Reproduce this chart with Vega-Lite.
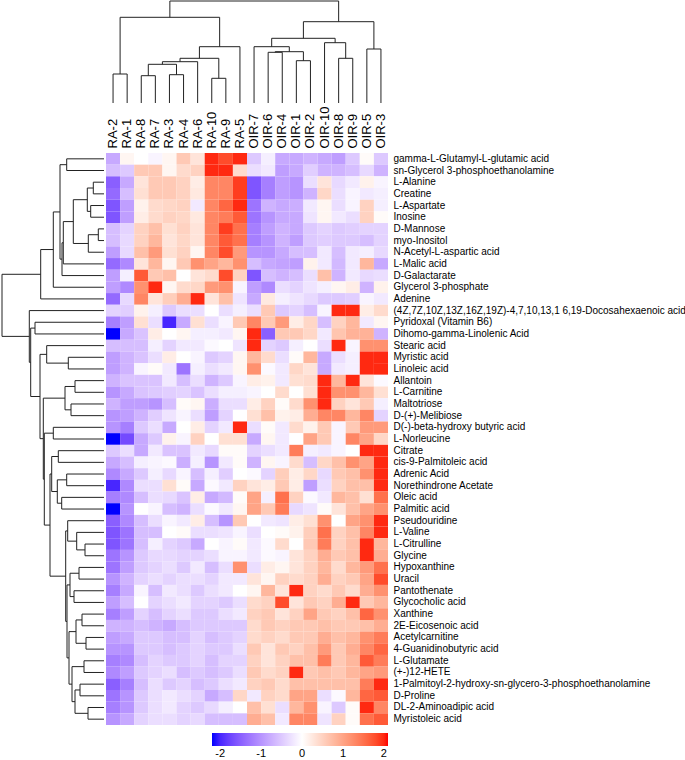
{
"$schema": "https://vega.github.io/schema/vega-lite/v6.json",
"width": 282, "height": 572,
"autosize": "none",
"padding": {"left": 106, "top": 153, "right": 297, "bottom": 35},
"background": "white",
"config": {"view": {"stroke": null}, "font": "Liberation Sans", "axis": {"labelColor": "black"}},
"resolve": {"scale": {"x": "independent", "y": "independent"}},
"datasets": {
"heat": [
{"m":"gamma-L-Glutamyl-L-glutamic acid","RA-2":-0.8,"RA-1":0.1,"RA-8":0,"RA-7":-0.1,"RA-3":0.1,"RA-4":0.6,"RA-6":0.3,"RA-10":2,"RA-9":1.8,"RA-5":2,"OIR-7":-0.5,"OIR-6":-0.15,"OIR-4":-0.8,"OIR-1":-0.8,"OIR-2":-0.7,"OIR-10":-0.8,"OIR-8":-0.9,"OIR-9":-0.5,"OIR-5":0.05,"OIR-3":-0.5},
{"m":"sn-Glycerol 3-phosphoethanolamine","RA-2":-0.6,"RA-1":-0.5,"RA-8":0.6,"RA-7":0.6,"RA-3":0.1,"RA-4":0.4,"RA-6":0.5,"RA-10":2,"RA-9":2,"RA-5":0.4,"OIR-7":-0.3,"OIR-6":-0.2,"OIR-4":-0.9,"OIR-1":-0.8,"OIR-2":-0.45,"OIR-10":-0.7,"OIR-8":-0.7,"OIR-9":-0.6,"OIR-5":-0.35,"OIR-3":-0.7},
{"m":"L-Alanine","RA-2":-1.5,"RA-1":-0.8,"RA-8":0.3,"RA-7":0.6,"RA-3":0.6,"RA-4":0.5,"RA-6":0.2,"RA-10":1.3,"RA-9":1.3,"RA-5":1.9,"OIR-7":-1.6,"OIR-6":-1.2,"OIR-4":-0.9,"OIR-1":-1.0,"OIR-2":-0.3,"OIR-10":0.3,"OIR-8":-0.35,"OIR-9":-0.2,"OIR-5":0.15,"OIR-3":-0.1},
{"m":"Creatine","RA-2":-1.4,"RA-1":-0.6,"RA-8":0.35,"RA-7":0.6,"RA-3":0.6,"RA-4":0.5,"RA-6":0.25,"RA-10":1.3,"RA-9":1.3,"RA-5":1.9,"OIR-7":-1.6,"OIR-6":-1.2,"OIR-4":-0.9,"OIR-1":-1.0,"OIR-2":-0.7,"OIR-10":0.45,"OIR-8":-0.3,"OIR-9":-0.1,"OIR-5":-0.2,"OIR-3":-0.15},
{"m":"L-Aspartate","RA-2":-1.6,"RA-1":-0.9,"RA-8":0.15,"RA-7":0.4,"RA-3":0.45,"RA-4":0.5,"RA-6":-0.2,"RA-10":1.3,"RA-9":1.6,"RA-5":2,"OIR-7":-1.3,"OIR-6":-0.7,"OIR-4":-0.8,"OIR-1":-0.75,"OIR-2":-0.2,"OIR-10":0.1,"OIR-8":-0.3,"OIR-9":-0.1,"OIR-5":0.5,"OIR-3":-0.15},
{"m":"Inosine","RA-2":-1.6,"RA-1":-0.9,"RA-8":0.2,"RA-7":0.4,"RA-3":0.5,"RA-4":0.45,"RA-6":0.25,"RA-10":1.3,"RA-9":1.4,"RA-5":1.7,"OIR-7":-1.3,"OIR-6":-1.0,"OIR-4":-0.8,"OIR-1":-0.8,"OIR-2":-0.25,"OIR-10":0.1,"OIR-8":-0.2,"OIR-9":-0.3,"OIR-5":0.5,"OIR-3":0.05},
{"m":"D-Mannose","RA-2":-0.6,"RA-1":-0.4,"RA-8":0.5,"RA-7":0.7,"RA-3":0.35,"RA-4":0.5,"RA-6":0.3,"RA-10":1.3,"RA-9":1.9,"RA-5":1.5,"OIR-7":-1.2,"OIR-6":-0.9,"OIR-4":-0.7,"OIR-1":-0.8,"OIR-2":-0.5,"OIR-10":-0.4,"OIR-8":-0.5,"OIR-9":-0.45,"OIR-5":-0.4,"OIR-3":-0.4},
{"m":"myo-Inositol","RA-2":-0.6,"RA-1":-0.35,"RA-8":0.5,"RA-7":0.8,"RA-3":0.3,"RA-4":0.45,"RA-6":0.3,"RA-10":1.3,"RA-9":1.7,"RA-5":1.5,"OIR-7":-1.2,"OIR-6":-1.0,"OIR-4":-0.7,"OIR-1":-0.9,"OIR-2":-0.5,"OIR-10":-0.45,"OIR-8":-0.5,"OIR-9":-0.5,"OIR-5":-0.6,"OIR-3":-0.4},
{"m":"N-Acetyl-L-aspartic acid","RA-2":-0.9,"RA-1":-0.35,"RA-8":0.7,"RA-7":1.1,"RA-3":0.35,"RA-4":0.5,"RA-6":0.1,"RA-10":1.3,"RA-9":1.8,"RA-5":1.1,"OIR-7":-1.0,"OIR-6":-1.0,"OIR-4":-0.8,"OIR-1":-0.6,"OIR-2":-0.6,"OIR-10":-0.2,"OIR-8":-0.6,"OIR-9":-0.2,"OIR-5":-0.15,"OIR-3":-0.35},
{"m":"L-Malic acid","RA-2":-1.4,"RA-1":-1.1,"RA-8":0.3,"RA-7":0.8,"RA-3":0.1,"RA-4":0.6,"RA-6":1.2,"RA-10":1.0,"RA-9":0.8,"RA-5":1.2,"OIR-7":-0.6,"OIR-6":-0.8,"OIR-4":-0.85,"OIR-1":-0.9,"OIR-2":0.15,"OIR-10":-0.2,"OIR-8":-0.65,"OIR-9":-0.2,"OIR-5":0.8,"OIR-3":-0.8},
{"m":"D-Galactarate","RA-2":-0.9,"RA-1":-0.15,"RA-8":1.7,"RA-7":0.6,"RA-3":0.7,"RA-4":0,"RA-6":0.3,"RA-10":0.4,"RA-9":1.8,"RA-5":0.5,"OIR-7":-1.6,"OIR-6":-0.6,"OIR-4":-0.7,"OIR-1":-0.6,"OIR-2":-0.3,"OIR-10":0.7,"OIR-8":-0.7,"OIR-9":-0.2,"OIR-5":-0.35,"OIR-3":-0.3},
{"m":"Glycerol 3-phosphate","RA-2":-0.9,"RA-1":-1.1,"RA-8":1.2,"RA-7":2,"RA-3":0.1,"RA-4":0.4,"RA-6":0.45,"RA-10":1.1,"RA-9":1.2,"RA-5":-0.1,"OIR-7":-0.9,"OIR-6":-1.1,"OIR-4":-0.3,"OIR-1":-0.4,"OIR-2":-0.25,"OIR-10":-0.15,"OIR-8":0.1,"OIR-9":0.2,"OIR-5":-0.7,"OIR-3":0.15},
{"m":"Adenine","RA-2":-1.4,"RA-1":-0.35,"RA-8":1.3,"RA-7":0.3,"RA-3":0.55,"RA-4":0.9,"RA-6":2,"RA-10":0.3,"RA-9":0.7,"RA-5":-0.25,"OIR-7":-0.8,"OIR-6":0.25,"OIR-4":-0.15,"OIR-1":-0.25,"OIR-2":-0.35,"OIR-10":-0.5,"OIR-8":-0.5,"OIR-9":-0.45,"OIR-5":-0.1,"OIR-3":-0.2},
{"m":"(4Z,7Z,10Z,13Z,16Z,19Z)-4,7,10,13,1 6,19-Docosahexaenoic acid","RA-2":-0.4,"RA-1":-0.45,"RA-8":0.15,"RA-7":-0.15,"RA-3":-0.5,"RA-4":-0.3,"RA-6":-0.3,"RA-10":0,"RA-9":-0.3,"RA-5":-0.15,"OIR-7":-0.3,"OIR-6":0.6,"OIR-4":-0.5,"OIR-1":-0.4,"OIR-2":-0.6,"OIR-10":-0.1,"OIR-8":2,"OIR-9":2,"OIR-5":0.2,"OIR-3":0.4},
{"m":"Pyridoxal (Vitamin B6)","RA-2":-1.2,"RA-1":-0.9,"RA-8":0.35,"RA-7":-0.3,"RA-3":-2,"RA-4":-0.8,"RA-6":0.35,"RA-10":-0.3,"RA-9":-0.1,"RA-5":0.6,"OIR-7":1.3,"OIR-6":0.6,"OIR-4":1.1,"OIR-1":0.2,"OIR-2":0.45,"OIR-10":-0.6,"OIR-8":0.5,"OIR-9":0.8,"OIR-5":-0.2,"OIR-3":0.1},
{"m":"Dihomo-gamma-Linolenic Acid","RA-2":-2.3,"RA-1":-0.8,"RA-8":-0.55,"RA-7":0.2,"RA-3":0,"RA-4":0.1,"RA-6":-0.15,"RA-10":-0.15,"RA-9":-0.2,"RA-5":0.1,"OIR-7":2,"OIR-6":-1.5,"OIR-4":0.6,"OIR-1":0.6,"OIR-2":0.45,"OIR-10":-0.2,"OIR-8":0.65,"OIR-9":0.85,"OIR-5":0.85,"OIR-3":-0.7},
{"m":"Stearic acid","RA-2":-0.6,"RA-1":-0.6,"RA-8":-0.6,"RA-7":-0.15,"RA-3":-0.4,"RA-4":-0.2,"RA-6":-0.2,"RA-10":-0.05,"RA-9":0,"RA-5":-0.25,"OIR-7":2,"OIR-6":-0.4,"OIR-4":-0.5,"OIR-1":-0.15,"OIR-2":0,"OIR-10":-0.3,"OIR-8":2,"OIR-9":-0.1,"OIR-5":1.2,"OIR-3":1.2},
{"m":"Myristic acid","RA-2":-0.9,"RA-1":-0.7,"RA-8":-0.55,"RA-7":-0.3,"RA-3":0.2,"RA-4":0,"RA-6":-0.1,"RA-10":-0.5,"RA-9":-0.4,"RA-5":0.1,"OIR-7":0.8,"OIR-6":0.4,"OIR-4":-0.3,"OIR-1":0.05,"OIR-2":0.8,"OIR-10":-0.8,"OIR-8":-0.3,"OIR-9":-0.15,"OIR-5":2,"OIR-3":2},
{"m":"Linoleic acid","RA-2":-0.9,"RA-1":-0.7,"RA-8":-0.1,"RA-7":0.05,"RA-3":-0.2,"RA-4":-1.3,"RA-6":-0.15,"RA-10":-0.3,"RA-9":-0.2,"RA-5":0.1,"OIR-7":1.2,"OIR-6":-0.05,"OIR-4":-0.2,"OIR-1":0.45,"OIR-2":0.3,"OIR-10":-0.8,"OIR-8":-0.2,"OIR-9":-0.15,"OIR-5":2,"OIR-3":2},
{"m":"Allantoin","RA-2":-0.7,"RA-1":-0.55,"RA-8":-0.55,"RA-7":-0.55,"RA-3":-0.2,"RA-4":-0.6,"RA-6":-0.3,"RA-10":-0.7,"RA-9":-0.5,"RA-5":-0.1,"OIR-7":0.2,"OIR-6":0.15,"OIR-4":-0.2,"OIR-1":0.35,"OIR-2":0.4,"OIR-10":2,"OIR-8":0.8,"OIR-9":2,"OIR-5":0.3,"OIR-3":-0.05},
{"m":"L-Carnitine","RA-2":-1.0,"RA-1":-0.8,"RA-8":-0.55,"RA-7":-0.5,"RA-3":-0.45,"RA-4":-0.4,"RA-6":-0.55,"RA-10":-0.3,"RA-9":-0.15,"RA-5":-0.15,"OIR-7":-0.1,"OIR-6":0,"OIR-4":0.4,"OIR-1":0,"OIR-2":0.35,"OIR-10":2,"OIR-8":1.2,"OIR-9":1.2,"OIR-5":0.8,"OIR-3":0.35},
{"m":"Maltotriose","RA-2":-0.7,"RA-1":-0.9,"RA-8":-0.9,"RA-7":-1.0,"RA-3":-0.6,"RA-4":0.05,"RA-6":0.1,"RA-10":-0.75,"RA-9":-0.3,"RA-5":-0.3,"OIR-7":0.2,"OIR-6":0.5,"OIR-4":0.05,"OIR-1":0.4,"OIR-2":1.2,"OIR-10":2,"OIR-8":0.5,"OIR-9":0.3,"OIR-5":0.6,"OIR-3":-0.15},
{"m":"D-(+)-Melibiose","RA-2":-1.0,"RA-1":-0.9,"RA-8":-0.7,"RA-7":-0.45,"RA-3":-0.25,"RA-4":-0.1,"RA-6":-0.3,"RA-10":-0.9,"RA-9":-0.4,"RA-5":0,"OIR-7":0.35,"OIR-6":0.7,"OIR-4":0.15,"OIR-1":0.2,"OIR-2":0.9,"OIR-10":1.3,"OIR-8":1.3,"OIR-9":0.8,"OIR-5":1.3,"OIR-3":-0.4},
{"m":"D(-)-beta-hydroxy butyric acid","RA-2":-1.0,"RA-1":-1.2,"RA-8":-0.5,"RA-7":-0.3,"RA-3":-0.8,"RA-4":0,"RA-6":0.2,"RA-10":-0.4,"RA-9":-0.2,"RA-5":2,"OIR-7":-0.3,"OIR-6":0.05,"OIR-4":-0.2,"OIR-1":0.4,"OIR-2":0.15,"OIR-10":0.6,"OIR-8":-0.1,"OIR-9":0.6,"OIR-5":1.1,"OIR-3":1.1},
{"m":"L-Norleucine","RA-2":-2.2,"RA-1":-1.7,"RA-8":-0.8,"RA-7":-0.5,"RA-3":0.15,"RA-4":-0.1,"RA-6":0.5,"RA-10":0,"RA-9":0.35,"RA-5":0.35,"OIR-7":-0.8,"OIR-6":0.1,"OIR-4":-0.2,"OIR-1":0,"OIR-2":1.0,"OIR-10":0.6,"OIR-8":-0.1,"OIR-9":1.3,"OIR-5":1.0,"OIR-3":0.45},
{"m":"Citrate","RA-2":-0.5,"RA-1":-0.3,"RA-8":-0.8,"RA-7":-0.2,"RA-3":-0.55,"RA-4":-0.55,"RA-6":-0.2,"RA-10":-0.35,"RA-9":0.05,"RA-5":0.05,"OIR-7":-0.4,"OIR-6":-0.3,"OIR-4":-0.2,"OIR-1":1.4,"OIR-2":-0.15,"OIR-10":-0.2,"OIR-8":-0.1,"OIR-9":0,"OIR-5":2,"OIR-3":2},
{"m":"cis-9-Palmitoleic acid","RA-2":-0.8,"RA-1":-0.6,"RA-8":-0.15,"RA-7":-0.1,"RA-3":-0.05,"RA-4":-0.75,"RA-6":-0.15,"RA-10":-1.0,"RA-9":-0.2,"RA-5":0.05,"OIR-7":-0.7,"OIR-6":0.1,"OIR-4":-0.1,"OIR-1":0.4,"OIR-2":-0.6,"OIR-10":0.45,"OIR-8":0.7,"OIR-9":1.2,"OIR-5":1.0,"OIR-3":2},
{"m":"Adrenic Acid","RA-2":-1.1,"RA-1":-0.8,"RA-8":-0.5,"RA-7":-0.15,"RA-3":-0.35,"RA-4":-0.1,"RA-6":-0.6,"RA-10":-0.15,"RA-9":-0.45,"RA-5":0,"OIR-7":-0.05,"OIR-6":-0.4,"OIR-4":0.55,"OIR-1":0.2,"OIR-2":0.45,"OIR-10":-0.35,"OIR-8":0.6,"OIR-9":0.7,"OIR-5":1.2,"OIR-3":2},
{"m":"Norethindrone Acetate","RA-2":-2.0,"RA-1":-1.1,"RA-8":-0.3,"RA-7":-0.3,"RA-3":0.35,"RA-4":0.05,"RA-6":-0.8,"RA-10":-0.05,"RA-9":-0.2,"RA-5":0.5,"OIR-7":0.3,"OIR-6":0.2,"OIR-4":0.6,"OIR-1":0.2,"OIR-2":-0.9,"OIR-10":-0.3,"OIR-8":0.5,"OIR-9":0.7,"OIR-5":0.7,"OIR-3":2},
{"m":"Oleic acid","RA-2":-1.2,"RA-1":-1.1,"RA-8":-0.6,"RA-7":-0.3,"RA-3":-0.35,"RA-4":-0.55,"RA-6":0.2,"RA-10":-0.8,"RA-9":-0.65,"RA-5":0.05,"OIR-7":1.0,"OIR-6":-0.15,"OIR-4":1.5,"OIR-1":0.5,"OIR-2":-0.05,"OIR-10":-0.2,"OIR-8":0.8,"OIR-9":0.7,"OIR-5":0.35,"OIR-3":1.5},
{"m":"Palmitic acid","RA-2":-2.2,"RA-1":-1.0,"RA-8":0,"RA-7":-0.1,"RA-3":-0.6,"RA-4":-0.7,"RA-6":-0.3,"RA-10":-0.05,"RA-9":-0.2,"RA-5":0.1,"OIR-7":1.0,"OIR-6":0.6,"OIR-4":1.4,"OIR-1":-0.35,"OIR-2":-0.25,"OIR-10":0.05,"OIR-8":0.3,"OIR-9":0.7,"OIR-5":1.0,"OIR-3":1.2},
{"m":"Pseudouridine","RA-2":-1.5,"RA-1":-1.1,"RA-8":-0.6,"RA-7":-0.3,"RA-3":-0.1,"RA-4":-0.2,"RA-6":0.2,"RA-10":-0.6,"RA-9":-1.0,"RA-5":0.6,"OIR-7":0,"OIR-6":-0.2,"OIR-4":-0.25,"OIR-1":0.2,"OIR-2":0.35,"OIR-10":1.2,"OIR-8":0,"OIR-9":1.0,"OIR-5":1.2,"OIR-3":2},
{"m":"L-Valine","RA-2":-1.6,"RA-1":-1.3,"RA-8":-0.6,"RA-7":-0.6,"RA-3":0,"RA-4":0.05,"RA-6":-0.3,"RA-10":-0.3,"RA-9":-0.25,"RA-5":-0.1,"OIR-7":-0.3,"OIR-6":0,"OIR-4":0.05,"OIR-1":0.15,"OIR-2":0.55,"OIR-10":1.5,"OIR-8":0.5,"OIR-9":0.7,"OIR-5":1.3,"OIR-3":2},
{"m":"L-Citrulline","RA-2":-1.6,"RA-1":-1.3,"RA-8":-0.6,"RA-7":-0.15,"RA-3":-0.4,"RA-4":-0.5,"RA-6":-0.8,"RA-10":0,"RA-9":-0.1,"RA-5":0.05,"OIR-7":-0.2,"OIR-6":-0.05,"OIR-4":0.4,"OIR-1":0,"OIR-2":0.6,"OIR-10":1.4,"OIR-8":0.5,"OIR-9":0.7,"OIR-5":2,"OIR-3":0.8},
{"m":"Glycine","RA-2":-1.3,"RA-1":-1.0,"RA-8":-0.5,"RA-7":-0.35,"RA-3":-0.35,"RA-4":-0.4,"RA-6":-0.4,"RA-10":-0.3,"RA-9":-0.1,"RA-5":-0.1,"OIR-7":-0.2,"OIR-6":-0.05,"OIR-4":-0.1,"OIR-1":0.3,"OIR-2":0.5,"OIR-10":0.9,"OIR-8":0.6,"OIR-9":0.7,"OIR-5":2,"OIR-3":0.9},
{"m":"Hypoxanthine","RA-2":-1.3,"RA-1":-0.9,"RA-8":-0.5,"RA-7":-0.4,"RA-3":-0.3,"RA-4":-0.5,"RA-6":-0.2,"RA-10":-0.6,"RA-9":-0.3,"RA-5":1.2,"OIR-7":-0.3,"OIR-6":0.2,"OIR-4":0.1,"OIR-1":0.3,"OIR-2":0.5,"OIR-10":0.8,"OIR-8":0.4,"OIR-9":0.8,"OIR-5":1.1,"OIR-3":1.5},
{"m":"Uracil","RA-2":-1.0,"RA-1":-0.7,"RA-8":-0.4,"RA-7":-0.3,"RA-3":-0.4,"RA-4":-0.3,"RA-6":-0.3,"RA-10":-0.4,"RA-9":-0.2,"RA-5":-0.2,"OIR-7":0.3,"OIR-6":0.1,"OIR-4":0.5,"OIR-1":0.4,"OIR-2":0.5,"OIR-10":0.9,"OIR-8":0.5,"OIR-9":0.6,"OIR-5":1.0,"OIR-3":1.8},
{"m":"Pantothenate","RA-2":-1.2,"RA-1":-0.8,"RA-8":-0.1,"RA-7":-0.6,"RA-3":-0.2,"RA-4":-0.3,"RA-6":-0.5,"RA-10":-0.3,"RA-9":-0.2,"RA-5":0,"OIR-7":0.1,"OIR-6":0.8,"OIR-4":0.3,"OIR-1":2,"OIR-2":0.5,"OIR-10":0.4,"OIR-8":0.6,"OIR-9":0.4,"OIR-5":0.9,"OIR-3":1.2},
{"m":"Glycocholic acid","RA-2":-0.9,"RA-1":-0.6,"RA-8":0,"RA-7":-0.4,"RA-3":-0.3,"RA-4":-0.2,"RA-6":-0.4,"RA-10":-0.4,"RA-9":-0.5,"RA-5":-0.3,"OIR-7":0.4,"OIR-6":0.5,"OIR-4":1.8,"OIR-1":0.3,"OIR-2":0.6,"OIR-10":0.5,"OIR-8":0.9,"OIR-9":2,"OIR-5":0.6,"OIR-3":0.8},
{"m":"Xanthine","RA-2":-1.2,"RA-1":-0.9,"RA-8":-0.4,"RA-7":-0.6,"RA-3":-0.4,"RA-4":-0.3,"RA-6":-0.5,"RA-10":-0.5,"RA-9":-0.3,"RA-5":-0.2,"OIR-7":0.5,"OIR-6":0.6,"OIR-4":0.3,"OIR-1":0.5,"OIR-2":1.0,"OIR-10":0.6,"OIR-8":0.5,"OIR-9":0.7,"OIR-5":1.6,"OIR-3":1.2},
{"m":"2E-Eicosenoic acid","RA-2":-0.7,"RA-1":-0.7,"RA-8":-0.6,"RA-7":-0.7,"RA-3":-0.8,"RA-4":-0.6,"RA-6":-0.5,"RA-10":-0.5,"RA-9":-0.5,"RA-5":-0.5,"OIR-7":0.4,"OIR-6":0.6,"OIR-4":0.5,"OIR-1":0.6,"OIR-2":0.6,"OIR-10":0.7,"OIR-8":0.6,"OIR-9":0.6,"OIR-5":0.7,"OIR-3":0.9},
{"m":"Acetylcarnitine","RA-2":-0.9,"RA-1":-0.8,"RA-8":-0.5,"RA-7":-0.5,"RA-3":-0.6,"RA-4":-0.6,"RA-6":-0.4,"RA-10":-0.6,"RA-9":-0.5,"RA-5":-0.4,"OIR-7":0.4,"OIR-6":0.5,"OIR-4":0.4,"OIR-1":0.6,"OIR-2":0.6,"OIR-10":0.9,"OIR-8":0.7,"OIR-9":0.8,"OIR-5":1.2,"OIR-3":1.4},
{"m":"4-Guanidinobutyric acid","RA-2":-1.0,"RA-1":-1.0,"RA-8":-0.5,"RA-7":-0.5,"RA-3":-0.6,"RA-4":-0.5,"RA-6":-0.4,"RA-10":-0.5,"RA-9":-0.5,"RA-5":-0.3,"OIR-7":0.6,"OIR-6":0.3,"OIR-4":0.6,"OIR-1":0.5,"OIR-2":0.7,"OIR-10":1.1,"OIR-8":0.6,"OIR-9":0.9,"OIR-5":1.3,"OIR-3":1.6},
{"m":"L-Glutamate","RA-2":-1.2,"RA-1":-1.1,"RA-8":-0.6,"RA-7":-0.4,"RA-3":-0.5,"RA-4":-0.5,"RA-6":-0.4,"RA-10":-0.6,"RA-9":-0.4,"RA-5":-0.4,"OIR-7":0.5,"OIR-6":0.3,"OIR-4":0.5,"OIR-1":0.7,"OIR-2":0.7,"OIR-10":1.4,"OIR-8":0.6,"OIR-9":0.8,"OIR-5":1.7,"OIR-3":1.4},
{"m":"(+-)12-HETE","RA-2":-1.1,"RA-1":-0.9,"RA-8":-0.5,"RA-7":-0.4,"RA-3":-0.3,"RA-4":-0.6,"RA-6":-0.5,"RA-10":-0.6,"RA-9":-0.5,"RA-5":-0.3,"OIR-7":0.6,"OIR-6":0.4,"OIR-4":0.5,"OIR-1":2,"OIR-2":0.6,"OIR-10":0.7,"OIR-8":0.6,"OIR-9":0.8,"OIR-5":1.0,"OIR-3":1.1},
{"m":"1-Palmitoyl-2-hydroxy-sn-glycero-3-phosphoethanolamine","RA-2":-1.5,"RA-1":-1.2,"RA-8":-0.6,"RA-7":-0.3,"RA-3":-0.5,"RA-4":-0.4,"RA-6":-0.6,"RA-10":-0.5,"RA-9":-0.3,"RA-5":-0.2,"OIR-7":0.5,"OIR-6":0.6,"OIR-4":0.4,"OIR-1":0.7,"OIR-2":0.7,"OIR-10":0.7,"OIR-8":0.7,"OIR-9":0.7,"OIR-5":1.4,"OIR-3":2},
{"m":"D-Proline","RA-2":-1.3,"RA-1":-1.0,"RA-8":-0.5,"RA-7":-0.3,"RA-3":-0.2,"RA-4":-0.3,"RA-6":-0.4,"RA-10":-0.8,"RA-9":-0.6,"RA-5":0.45,"OIR-7":-0.2,"OIR-6":0.5,"OIR-4":0.4,"OIR-1":1.0,"OIR-2":1.0,"OIR-10":-0.3,"OIR-8":-0.05,"OIR-9":0.8,"OIR-5":1.6,"OIR-3":1.7},
{"m":"DL-2-Aminoadipic acid","RA-2":-1.2,"RA-1":-1.0,"RA-8":-0.5,"RA-7":-0.3,"RA-3":-0.2,"RA-4":-0.4,"RA-6":-0.5,"RA-10":-0.35,"RA-9":-0.15,"RA-5":0,"OIR-7":0.7,"OIR-6":0.35,"OIR-4":-0.3,"OIR-1":0.8,"OIR-2":1.2,"OIR-10":-0.1,"OIR-8":-0.5,"OIR-9":0.05,"OIR-5":2,"OIR-3":1.3},
{"m":"Myristoleic acid","RA-2":-1.0,"RA-1":-0.8,"RA-8":-0.4,"RA-7":-0.3,"RA-3":-0.3,"RA-4":-0.4,"RA-6":-0.35,"RA-10":-0.6,"RA-9":-0.6,"RA-5":-0.6,"OIR-7":0.9,"OIR-6":0.7,"OIR-4":-0.2,"OIR-1":1.3,"OIR-2":1.3,"OIR-10":-0.25,"OIR-8":0.5,"OIR-9":0.05,"OIR-5":1.5,"OIR-3":1.7}
],
"coltree": [
{"a":0.5,"ha":0,"b":1.5,"hb":0,"h":29},
{"a":2.5,"ha":0,"b":3.5,"hb":0,"h":27.3},
{"a":4.5,"ha":0,"b":5.5,"hb":0,"h":28.3},
{"a":3,"ha":27.3,"b":5,"hb":28.3,"h":38.7},
{"a":4,"ha":38.7,"b":6.5,"hb":0,"h":41.3},
{"a":7.5,"ha":0,"b":8.5,"hb":0,"h":24.7},
{"a":5.25,"ha":41.3,"b":8,"hb":24.7,"h":44.7},
{"a":6.625,"ha":44.7,"b":9.5,"hb":0,"h":56.3},
{"a":1,"ha":29,"b":8.06,"hb":56.3,"h":85.7},
{"a":13.5,"ha":0,"b":14.5,"hb":0,"h":42.3},
{"a":11.5,"ha":0,"b":12.5,"hb":0,"h":50.7},
{"a":12,"ha":50.7,"b":14,"hb":42.3,"h":51.3},
{"a":10.5,"ha":0,"b":13,"hb":51.3,"h":56.3},
{"a":16.5,"ha":0,"b":17.5,"hb":0,"h":44.7},
{"a":15.5,"ha":0,"b":17,"hb":44.7,"h":60.3},
{"a":11.75,"ha":56.3,"b":16.25,"hb":60.3,"h":64.7},
{"a":18.5,"ha":0,"b":19.5,"hb":0,"h":54},
{"a":14,"ha":64.7,"b":19,"hb":54,"h":81.3},
{"a":4.53,"ha":85.7,"b":16.5,"hb":81.3,"h":102}
],
"rowtree": [
{"a":0.5,"ha":0,"b":1.5,"hb":0,"h":37.3},
{"a":2.5,"ha":0,"b":3.5,"hb":0,"h":10.7},
{"a":4.5,"ha":0,"b":5.5,"hb":0,"h":13.3},
{"a":3.0,"ha":10.7,"b":5.0,"hb":13.3,"h":16.7},
{"a":6.5,"ha":0,"b":7.5,"hb":0,"h":5.7},
{"a":7.0,"ha":5.7,"b":8.5,"hb":0,"h":15.7},
{"a":4.0,"ha":16.7,"b":7.75,"hb":15.7,"h":30.7},
{"a":5.875,"ha":30.7,"b":9.5,"hb":0,"h":40.7},
{"a":7.69,"ha":40.7,"b":10.5,"hb":0,"h":42},
{"a":1.0,"ha":37.3,"b":9.09,"hb":42,"h":44},
{"a":5.05,"ha":44,"b":11.5,"hb":0,"h":50.7},
{"a":8.27,"ha":50.7,"b":12.5,"hb":0,"h":63.3},
{"a":14.5,"ha":0,"b":15.5,"hb":0,"h":69},
{"a":17.5,"ha":0,"b":18.5,"hb":0,"h":35.7},
{"a":16.5,"ha":0,"b":18.0,"hb":35.7,"h":57.3},
{"a":19.5,"ha":0,"b":20.5,"hb":0,"h":29},
{"a":21.5,"ha":0,"b":22.5,"hb":0,"h":33},
{"a":20.0,"ha":29,"b":22.0,"hb":33,"h":39},
{"a":23.5,"ha":0,"b":24.5,"hb":0,"h":50.7},
{"a":25.5,"ha":0,"b":26.5,"hb":0,"h":45.7},
{"a":27.5,"ha":0,"b":28.5,"hb":0,"h":37.3},
{"a":29.5,"ha":0,"b":30.5,"hb":0,"h":42.3},
{"a":28.0,"ha":37.3,"b":30.0,"hb":42.3,"h":46.7},
{"a":26.0,"ha":45.7,"b":29.0,"hb":46.7,"h":52.3},
{"a":33.5,"ha":0,"b":34.5,"hb":0,"h":19},
{"a":32.5,"ha":0,"b":34.0,"hb":19,"h":27.3},
{"a":31.5,"ha":0,"b":33.25,"hb":27.3,"h":36.3},
{"a":35.5,"ha":0,"b":36.5,"hb":0,"h":25},
{"a":37.5,"ha":0,"b":38.5,"hb":0,"h":30},
{"a":36.0,"ha":25,"b":38.0,"hb":30,"h":34},
{"a":39.5,"ha":0,"b":40.5,"hb":0,"h":22},
{"a":41.5,"ha":0,"b":42.5,"hb":0,"h":18},
{"a":40.0,"ha":22,"b":42.0,"hb":18,"h":28},
{"a":43.5,"ha":0,"b":44.5,"hb":0,"h":20},
{"a":45.5,"ha":0,"b":46.5,"hb":0,"h":24},
{"a":47.5,"ha":0,"b":48.5,"hb":0,"h":16},
{"a":46.0,"ha":24,"b":48.0,"hb":16,"h":29},
{"a":44.0,"ha":20,"b":47.0,"hb":29,"h":32},
{"a":41.0,"ha":28,"b":45.5,"hb":32,"h":35},
{"a":37.0,"ha":34,"b":43.25,"hb":35,"h":37},
{"a":32.375,"ha":36.3,"b":40.125,"hb":37,"h":38.3},
{"a":27.5,"ha":52.3,"b":36.25,"hb":38.3,"h":54},
{"a":24.0,"ha":50.7,"b":31.875,"hb":54,"h":59.7},
{"a":21.0,"ha":39,"b":27.94,"hb":59.7,"h":60.7},
{"a":17.25,"ha":57.3,"b":24.47,"hb":60.7,"h":64},
{"a":15.0,"ha":69,"b":20.86,"hb":64,"h":73.3},
{"a":13.5,"ha":0,"b":17.93,"hb":73.3,"h":74.7},
{"a":10.39,"ha":63.3,"b":15.71,"hb":74.7,"h":102}
]
},
"layer": [
{
"data": {"name": "heat"},
"transform": [{"fold": ["RA-2","RA-1","RA-8","RA-7","RA-3","RA-4","RA-6","RA-10","RA-9","RA-5","OIR-7","OIR-6","OIR-4","OIR-1","OIR-2","OIR-10","OIR-8","OIR-9","OIR-5","OIR-3"], "as": ["s","z"]}],
"mark": {"type": "rect"},
"encoding": {
"x": {"field": "s", "type": "nominal", "sort": ["RA-2","RA-1","RA-8","RA-7","RA-3","RA-4","RA-6","RA-10","RA-9","RA-5","OIR-7","OIR-6","OIR-4","OIR-1","OIR-2","OIR-10","OIR-8","OIR-9","OIR-5","OIR-3"], "scale": {"paddingInner": 0, "paddingOuter": 0},
 "axis": {"orient": "top", "title": null, "labelAngle": -90, "ticks": false, "tickSize": 0, "domain": false, "labelFontSize": 13, "labelPadding": 5, "labelColor": "black"}},
"y": {"field": "m", "type": "nominal", "sort": null, "scale": {"paddingInner": 0, "paddingOuter": 0},
 "axis": {"orient": "right", "title": null, "ticks": false, "tickSize": 0, "domain": false, "labelFontSize": 10, "labelPadding": 5, "labelLimit": 0, "labelColor": "black"}},
"color": {"field": "z", "type": "quantitative",
 "scale": {"domain": [-2.2, 0, 2.1], "range": ["#0000ff", "#ffffff", "#ff0000"], "interpolate": "lab", "clamp": true},
 "legend": {"orient": "none", "legendX": 106, "legendY": 580, "direction": "horizontal", "title": null, "gradientLength": 176, "gradientThickness": 13, "gradientStrokeWidth": 0, "labelFontSize": 11, "labelColor": "black", "values": [-2,-1,0,1,2], "labelExpr": "'' + datum.value", "padding": 0}}
}
},
{
"data": {"name": "coltree"},
"mark": {"type": "rule", "color": "#222222", "strokeWidth": 1},
"encoding": {
"x": {"field": "a", "type": "quantitative", "scale": {"domain": [0, 20], "range": [0, 282], "nice": false, "zero": false}, "axis": null},
"x2": {"field": "b"},
"y": {"field": "h", "type": "quantitative", "scale": {"domain": [0, 102], "range": [-50, -152], "nice": false, "zero": false}, "axis": null}
}
},
{
"data": {"name": "coltree"},
"mark": {"type": "rule", "color": "#222222", "strokeWidth": 1},
"encoding": {
"x": {"field": "a", "type": "quantitative", "scale": {"domain": [0, 20], "range": [0, 282], "nice": false, "zero": false}, "axis": null},
"y": {"field": "ha", "type": "quantitative", "scale": {"domain": [0, 102], "range": [-50, -152], "nice": false, "zero": false}, "axis": null},
"y2": {"field": "h"}
}
},
{
"data": {"name": "coltree"},
"mark": {"type": "rule", "color": "#222222", "strokeWidth": 1},
"encoding": {
"x": {"field": "b", "type": "quantitative", "scale": {"domain": [0, 20], "range": [0, 282], "nice": false, "zero": false}, "axis": null},
"y": {"field": "hb", "type": "quantitative", "scale": {"domain": [0, 102], "range": [-50, -152], "nice": false, "zero": false}, "axis": null},
"y2": {"field": "h"}
}
},
{
"data": {"name": "rowtree"},
"mark": {"type": "rule", "color": "#222222", "strokeWidth": 1},
"encoding": {
"y": {"field": "a", "type": "quantitative", "scale": {"domain": [0, 49], "range": [0, 572], "nice": false, "zero": false}, "axis": null},
"y2": {"field": "b"},
"x": {"field": "h", "type": "quantitative", "scale": {"domain": [0, 102], "range": [-2, -104], "nice": false, "zero": false}, "axis": null}
}
},
{
"data": {"name": "rowtree"},
"mark": {"type": "rule", "color": "#222222", "strokeWidth": 1},
"encoding": {
"y": {"field": "a", "type": "quantitative", "scale": {"domain": [0, 49], "range": [0, 572], "nice": false, "zero": false}, "axis": null},
"x": {"field": "ha", "type": "quantitative", "scale": {"domain": [0, 102], "range": [-2, -104], "nice": false, "zero": false}, "axis": null},
"x2": {"field": "h"}
}
},
{
"data": {"name": "rowtree"},
"mark": {"type": "rule", "color": "#222222", "strokeWidth": 1},
"encoding": {
"y": {"field": "b", "type": "quantitative", "scale": {"domain": [0, 49], "range": [0, 572], "nice": false, "zero": false}, "axis": null},
"x": {"field": "hb", "type": "quantitative", "scale": {"domain": [0, 102], "range": [-2, -104], "nice": false, "zero": false}, "axis": null},
"x2": {"field": "h"}
}
}
]
}
